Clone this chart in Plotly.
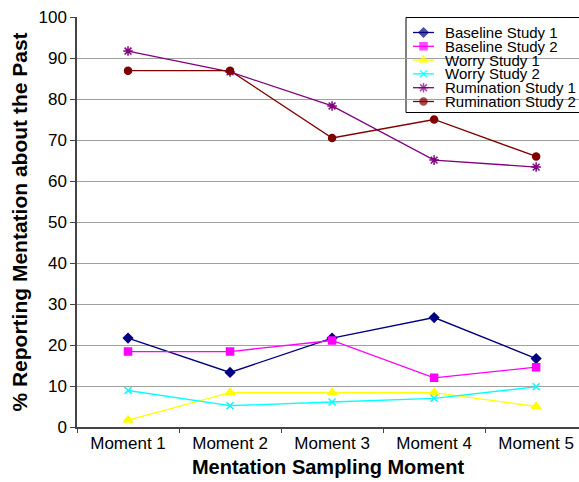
import plotly.graph_objects as go

moments = ["Moment 1", "Moment 2", "Moment 3", "Moment 4", "Moment 5"]
baseline_1 = [21.7, 13.3, 21.7, 26.7, 16.7]
baseline_2 = [18.4, 18.4, 21.1, 12.0, 14.6]
worry_1 = [1.7, 8.4, 8.4, 8.4, 5.0]
worry_2 = [8.9, 5.2, 6.1, 7.0, 9.8]
rumination_1 = [91.7, 86.6, 78.3, 65.1, 63.4]
rumination_2 = [86.9, 86.9, 70.5, 75.0, 66.0]
series_names = ["Baseline Study 1", "Baseline Study 2", "Worry Study 1",
                "Worry Study 2", "Rumination Study 1", "Rumination Study 2"]
series_values = [baseline_1, baseline_2, worry_1, worry_2, rumination_1, rumination_2]

colors = ["#000080", "#FF00FF", "#FFFF00", "#00FFFF", "#800080", "#800000"]
symbols = ["diamond", "square", "triangle-up", "x-thin-open", "asterisk-open", "circle"]
sizes = [7, 7, 8, 7, 8, 7]

W, H = 579, 482
PLOT_X0, PLOT_X1, PLOT_Y0, PLOT_Y1 = 77, 579, 17, 427  # window pixels
L, R, T, B = PLOT_X0, W - PLOT_X1, PLOT_Y0, H - PLOT_Y1

fig = go.Figure()
for name, vals, color, sym, size in zip(series_names, series_values, colors, symbols, sizes):
    fig.add_trace(go.Scatter(
        x=moments, y=vals, name=name, mode="lines+markers",
        line=dict(color=color, width=1.3),
        marker=dict(symbol=sym, size=size, color=color,
                    line=dict(color=color, width=1.5)),
        showlegend=False,
    ))

# manual legend drawn in window-pixel space on an overlay axis
leg_left, leg_top, leg_bottom = 406, 17.5, 112.5
row0, row_step = 32.5, 13.8
for i, (name, color, sym, size) in enumerate(zip(series_names, colors, symbols, sizes)):
    yy = row0 + i * row_step
    fig.add_trace(go.Scatter(
        x=[413, 423.5, 434], y=[yy, yy, yy], mode="lines+markers",
        xaxis="x2", yaxis="y2",
        line=dict(color=color, width=1.3),
        marker=dict(symbol=sym, size=[0, size, 0], color=color,
                    line=dict(color=color, width=1.5)),
        showlegend=False, hoverinfo="skip",
    ))
    fig.add_annotation(x=443, y=yy, xref="x2", yref="y2", text=name,
                       showarrow=False, xanchor="left", yanchor="middle",
                       font=dict(size=15, color="black"))

fig.add_shape(type="rect", xref="x2", yref="y2",
              x0=leg_left, x1=582, y0=leg_top, y1=leg_bottom,
              line=dict(color="black", width=1), fillcolor="white", layer="below")

fig.update_layout(
    width=W, height=H,
    margin=dict(l=L, r=R, t=T, b=B, autoexpand=False),
    paper_bgcolor="white", plot_bgcolor="white",
    font=dict(family="Liberation Sans, Arial, sans-serif", color="black"),
    showlegend=False,
    xaxis=dict(
        type="category", range=[-0.5, 4.42], automargin=False,
        showline=True, linecolor="#444", linewidth=1.5,
        ticks="outside", tickson="boundaries", ticklen=4, tickcolor="#444",
        showgrid=False, tickfont=dict(size=17), ticklabeloverflow="allow",
        title=dict(text="<b>Mentation Sampling Moment</b>", font=dict(size=20), standoff=8),
    ),
    yaxis=dict(
        range=[0, 100], dtick=10, automargin=False,
        showline=True, linecolor="#444", linewidth=1.5,
        ticks="outside", ticklen=5, tickcolor="#444",
        showgrid=True, gridcolor="#a0a0a0", gridwidth=1,
        tickfont=dict(size=17), ticklabeloverflow="allow",
        title=dict(text="<b>% Reporting Mentation about the Past</b>", font=dict(size=21), standoff=5),
        zeroline=False,
    ),
    xaxis2=dict(range=[PLOT_X0, PLOT_X1], overlaying="x", visible=False, fixedrange=True),
    yaxis2=dict(range=[PLOT_Y1, PLOT_Y0], overlaying="y", visible=False, fixedrange=True),
)

fig.write_html("out.html", config={"displayModeBar": False},
               post_script="document.body.style.margin='0';document.body.style.overflow='hidden';")
